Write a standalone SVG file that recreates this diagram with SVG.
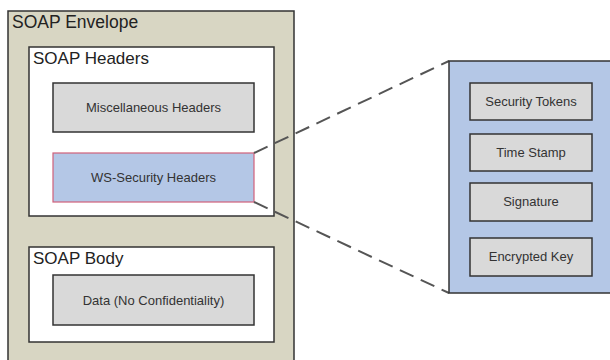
<svg xmlns="http://www.w3.org/2000/svg" width="610" height="360" viewBox="0 0 610 360">
<style>
text{font-family:"Liberation Sans",Arial,sans-serif;fill:#222}
.t{font-size:17px}
.l{font-size:13px;text-anchor:middle;fill:#333}
.w{fill:#fff;stroke:#333;stroke-width:1.5}
.g{fill:#d9d9d9;stroke:#333;stroke-width:1.5}
.c{fill:none;stroke:#555;stroke-width:2;stroke-dasharray:15 8}
</style>
<rect width="610" height="360" fill="#fff"/>
<g id="envelope">
<rect x="8" y="11" width="286" height="360" fill="#d8d6c3" stroke="#333" stroke-width="1.5"/>
<text x="12" y="28" class="t" style="font-size:17.5px">SOAP Envelope</text>
</g>
<g id="headers">
<rect x="29" y="47" width="245" height="169" class="w"/>
<text x="33" y="64" class="t">SOAP Headers</text>
</g>
<g id="misc">
<rect x="53" y="83" width="201" height="49" class="g"/>
<text x="153.5" y="112" class="l">Miscellaneous Headers</text>
</g>
<g id="wssec">
<rect x="53" y="153" width="201" height="49" fill="#b4c7e6" stroke="#d0607a" stroke-width="1.2"/>
<text x="153.5" y="182" class="l">WS-Security Headers</text>
</g>
<g id="body">
<rect x="29" y="247" width="245" height="95" class="w"/>
<text x="33" y="264" class="t">SOAP Body</text>
</g>
<g id="data">
<rect x="53" y="275" width="201" height="50" class="g"/>
<text x="153.5" y="305" class="l">Data (No Confidentiality)</text>
</g>
<g id="connectors">
<line x1="254" y1="153" x2="449" y2="61" class="c"/>
<line x1="254" y1="202" x2="449" y2="293" class="c"/>
</g>
<g id="detail">
<rect x="449" y="61" width="170" height="232" fill="#b4c7e6" stroke="#333" stroke-width="1.5"/>
</g>
<g id="tokens">
<rect x="470" y="83" width="122" height="37" class="g"/>
<text x="531" y="106" class="l">Security Tokens</text>
</g>
<g id="timestamp">
<rect x="470" y="134" width="122" height="37" class="g"/>
<text x="531" y="157" class="l">Time Stamp</text>
</g>
<g id="signature">
<rect x="470" y="183" width="122" height="38" class="g"/>
<text x="531" y="206" class="l">Signature</text>
</g>
<g id="enckey">
<rect x="470" y="238" width="122" height="38" class="g"/>
<text x="531" y="261" class="l">Encrypted Key</text>
</g>
</svg>
